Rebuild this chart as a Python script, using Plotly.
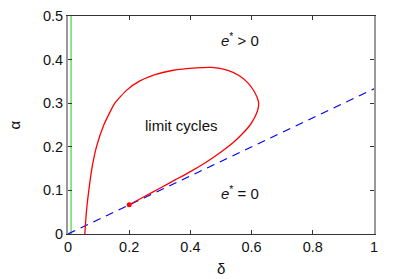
import plotly.graph_objects as go

# limit-cycle boundary (red curve)
curve_delta = [0.055, 0.060, 0.068, 0.078, 0.093, 0.117, 0.153, 0.192, 0.232, 0.282, 0.340,
               0.420, 0.470, 0.520, 0.560, 0.590, 0.610, 0.622, 0.622, 0.612, 0.595, 0.570,
               0.540, 0.500, 0.450, 0.400, 0.350, 0.300, 0.250, 0.200]
curve_alpha = [0.000, 0.050, 0.100, 0.150, 0.200, 0.250, 0.300, 0.330, 0.350, 0.365, 0.375,
               0.381, 0.382, 0.376, 0.363, 0.345, 0.325, 0.305, 0.290, 0.270, 0.250, 0.230,
               0.210, 0.188, 0.164, 0.143, 0.124, 0.105, 0.086, 0.067]

# end point (red dot)
dot_delta = [0.200]
dot_alpha = [0.067]

# dashed boundary e* = 0
line_delta = [0.0, 1.0]
line_alpha = [0.0, 0.333]

# green vertical line
green_delta = [0.01, 0.01]
green_alpha = [0.0, 0.5]

labels = [
    dict(x=0.563, y=0.447, text="<i>e</i><sup>*</sup> > 0"),
    dict(x=0.37, y=0.248, text="limit cycles"),
    dict(x=0.563, y=0.096, text="<i>e</i><sup>*</sup> = 0"),
]

fig = go.Figure()
fig.add_trace(go.Scatter(x=green_delta, y=green_alpha, mode="lines",
                         line=dict(color="#66dd66", width=1.5), showlegend=False))
fig.add_trace(go.Scatter(x=line_delta, y=line_alpha, mode="lines",
                         line=dict(color="#0000ee", width=1.2, dash="8px,6px"), showlegend=False))
fig.add_trace(go.Scatter(x=curve_delta, y=curve_alpha, mode="lines",
                         line=dict(color="#ff0000", width=1.3, shape="spline", smoothing=0.5),
                         showlegend=False))
fig.add_trace(go.Scatter(x=dot_delta, y=dot_alpha, mode="markers",
                         marker=dict(color="#ff0000", size=5), showlegend=False))

for a in labels:
    fig.add_annotation(x=a["x"], y=a["y"], text=a["text"], showarrow=False,
                       font=dict(size=15, color="#111"), xanchor="center", yanchor="middle")

# axis titles
fig.add_annotation(x=0.5, y=-0.156, xref="paper", yref="paper", text="δ", showarrow=False,
                   font=dict(size=15, color="#111"), xanchor="center", yanchor="middle")
fig.add_annotation(x=-0.175, y=0.5, xref="paper", yref="paper", text="α", showarrow=False,
                   textangle=-90, font=dict(size=15, color="#111"), xanchor="center", yanchor="middle")

fig.update_layout(
    width=399, height=279,
    margin=dict(l=60, r=33, t=8, b=53),
    paper_bgcolor="white", plot_bgcolor="white",
    font=dict(family="Liberation Sans, Arial, sans-serif", size=14.5, color="#111"),
    xaxis=dict(range=[0, 1], tickvals=[0, 0.2, 0.4, 0.6, 0.8, 1],
               ticktext=["0", "0.2", "0.4", "0.6", "0.8", "1"], automargin=False,
               ticks="inside", ticklen=4, tickcolor="#333", showgrid=False, zeroline=False,
               showline=True, linecolor="#333", linewidth=1, mirror="ticks"),
    yaxis=dict(range=[0, 0.5], tickvals=[0, 0.1, 0.2, 0.3, 0.4, 0.5],
               ticktext=["0", "0.1", "0.2", "0.3", "0.4", "0.5"], automargin=False,
               ticks="inside", ticklen=4, tickcolor="#333", showgrid=False, zeroline=False,
               showline=True, linecolor="#999", linewidth=2, mirror="ticks"),
)

fig.write_html("out.html")
